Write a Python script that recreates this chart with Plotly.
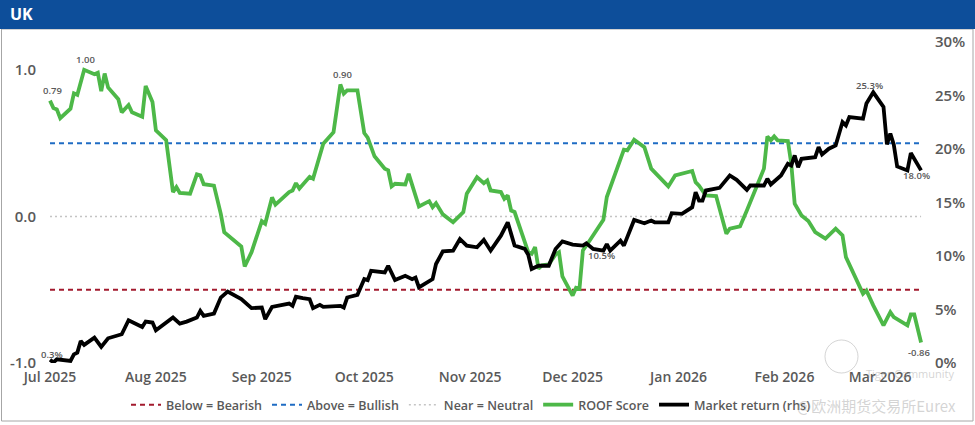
import plotly.graph_objects as go
import pandas as pd

# ---------------- data ----------------
roof_dates = [
    "2025-07-01", "2025-07-02", "2025-07-03", "2025-07-04", "2025-07-07", "2025-07-08", "2025-07-09",
    "2025-07-11", "2025-07-14", "2025-07-15", "2025-07-16", "2025-07-17", "2025-07-18", "2025-07-21",
    "2025-07-22", "2025-07-24", "2025-07-25", "2025-07-28", "2025-07-29", "2025-07-31", "2025-08-01",
    "2025-08-04", "2025-08-06", "2025-08-07", "2025-08-08", "2025-08-11", "2025-08-13", "2025-08-14",
    "2025-08-15", "2025-08-18", "2025-08-20", "2025-08-21", "2025-08-26", "2025-08-27", "2025-08-29",
    "2025-09-01", "2025-09-02", "2025-09-04", "2025-09-05", "2025-09-09", "2025-09-10", "2025-09-11",
    "2025-09-12", "2025-09-15", "2025-09-16", "2025-09-19", "2025-09-22", "2025-09-24", "2025-09-25",
    "2025-09-26", "2025-09-29", "2025-10-01", "2025-10-02", "2025-10-04", "2025-10-07", "2025-10-08",
    "2025-10-09", "2025-10-10", "2025-10-13", "2025-10-14", "2025-10-17", "2025-10-20", "2025-10-21",
    "2025-10-22", "2025-10-24", "2025-10-27", "2025-10-30", "2025-10-31", "2025-11-03", "2025-11-05",
    "2025-11-06", "2025-11-07", "2025-11-10", "2025-11-11", "2025-11-12", "2025-11-13", "2025-11-14",
    "2025-11-18", "2025-11-19", "2025-11-20", "2025-11-21", "2025-11-22", "2025-11-24", "2025-11-26",
    "2025-11-27", "2025-11-28", "2025-12-01", "2025-12-02", "2025-12-03", "2025-12-04", "2025-12-06",
    "2025-12-10", "2025-12-11", "2025-12-16", "2025-12-17", "2025-12-19", "2025-12-22", "2025-12-24",
    "2025-12-29", "2025-12-31", "2026-01-05", "2026-01-06", "2026-01-07", "2026-01-09", "2026-01-12",
    "2026-01-15", "2026-01-16", "2026-01-19", "2026-01-21", "2026-01-26", "2026-01-27", "2026-01-28",
    "2026-01-29", "2026-01-30", "2026-02-02", "2026-02-03", "2026-02-04", "2026-02-06", "2026-02-08",
    "2026-02-10", "2026-02-13", "2026-02-16", "2026-02-18", "2026-02-19", "2026-02-24", "2026-02-25",
    "2026-02-27", "2026-03-02", "2026-03-04", "2026-03-05", "2026-03-09", "2026-03-10", "2026-03-11",
    "2026-03-13",
]
roof_score = [
    0.79, 0.74, 0.73, 0.67, 0.735, 0.84, 0.83,
    1.00, 0.97, 0.98, 0.855, 0.975, 0.88, 0.80,
    0.71, 0.76, 0.71, 0.68, 0.89, 0.78, 0.587,
    0.52, 0.166, 0.20, 0.16, 0.155, 0.287, 0.28,
    0.22, 0.21, 0.018, -0.107, -0.205, -0.341, -0.244,
    -0.032, -0.05, 0.13, 0.08, 0.166, 0.177, 0.227,
    0.19, 0.27, 0.257, 0.496, 0.575, 0.90, 0.838,
    0.86, 0.86, 0.569, 0.537, 0.41, 0.325, 0.314,
    0.205, 0.223, 0.218, 0.29, 0.068, 0.104, 0.063,
    0.09, 0.014, -0.039, 0.03, 0.155, 0.268, 0.227,
    0.246, 0.177, 0.166, 0.12, 0.143, 0.04, 0.03,
    -0.244, -0.255, -0.209, -0.357, -0.334, -0.328, -0.26,
    -0.244, -0.41, -0.54, -0.487, -0.494, -0.232, -0.164,
    -0.023, 0.132, 0.455, 0.45, 0.523, 0.473, 0.326,
    0.205, 0.28, 0.31, 0.234, 0.21, 0.143, 0.139,
    -0.118, -0.084, -0.068, 0.041, 0.326, 0.546, 0.519,
    0.546, 0.519, 0.514, 0.36, 0.087, 0.007, -0.032,
    -0.107, -0.152, -0.084, -0.13, -0.278, -0.528, -0.505,
    -0.607, -0.744, -0.653, -0.687, -0.744, -0.669, -0.669,
    -0.86,
]

mkt_dates = [
    "2025-07-01", "2025-07-02", "2025-07-03", "2025-07-07", "2025-07-08", "2025-07-09", "2025-07-10",
    "2025-07-11", "2025-07-14", "2025-07-16", "2025-07-18", "2025-07-22", "2025-07-24", "2025-07-28",
    "2025-07-29", "2025-07-31", "2025-08-01", "2025-08-04", "2025-08-06", "2025-08-08", "2025-08-10",
    "2025-08-13", "2025-08-14", "2025-08-15", "2025-08-18", "2025-08-20", "2025-08-22", "2025-08-26",
    "2025-08-29", "2025-09-01", "2025-09-02", "2025-09-04", "2025-09-09", "2025-09-10", "2025-09-11",
    "2025-09-13", "2025-09-15", "2025-09-16", "2025-09-18", "2025-09-19", "2025-09-24", "2025-09-25",
    "2025-09-26", "2025-09-29", "2025-10-01", "2025-10-02", "2025-10-03", "2025-10-07", "2025-10-08",
    "2025-10-10", "2025-10-13", "2025-10-15", "2025-10-16", "2025-10-17", "2025-10-21", "2025-10-22",
    "2025-10-24", "2025-10-27", "2025-10-29", "2025-10-31", "2025-11-03", "2025-11-05", "2025-11-07",
    "2025-11-10", "2025-11-12", "2025-11-14", "2025-11-17", "2025-11-18", "2025-11-19", "2025-11-21",
    "2025-11-24", "2025-11-26", "2025-11-28", "2025-12-01", "2025-12-04", "2025-12-05", "2025-12-07",
    "2025-12-10", "2025-12-11", "2025-12-12", "2025-12-15", "2025-12-16", "2025-12-19", "2025-12-22",
    "2025-12-24", "2025-12-25", "2025-12-29", "2025-12-30", "2026-01-02", "2026-01-05", "2026-01-06",
    "2026-01-07", "2026-01-08", "2026-01-09", "2026-01-13", "2026-01-16", "2026-01-18", "2026-01-21",
    "2026-01-22", "2026-01-26", "2026-01-27", "2026-01-28", "2026-01-31", "2026-02-02", "2026-02-03",
    "2026-02-04", "2026-02-05", "2026-02-06", "2026-02-10", "2026-02-11", "2026-02-12", "2026-02-14",
    "2026-02-16", "2026-02-18", "2026-02-19", "2026-02-20", "2026-02-24", "2026-02-25", "2026-02-27",
    "2026-03-02", "2026-03-03", "2026-03-04", "2026-03-05", "2026-03-06", "2026-03-09", "2026-03-10",
    "2026-03-11", "2026-03-13",
]
market_return = [
    0.3, 0.05, 0.35, 0.19, 0.8, 0.97, 2.06,
    1.69, 2.37, 1.5, 2.31, 2.69, 4.0, 3.37,
    3.87, 3.78, 3.06, 3.78, 4.25, 3.68, 3.87,
    4.25, 4.87, 4.4, 4.62, 6.12, 6.68, 5.97,
    5.13, 5.18, 4.1, 5.25, 5.56, 5.34, 6.19,
    6.06, 5.97, 5.13, 5.44, 5.25, 5.34, 5.18,
    6.12, 6.37, 7.84, 7.75, 8.62, 8.46, 9.09,
    7.75, 8.15, 7.84, 7.99, 7.06, 7.84, 9.25,
    10.43, 10.5, 11.59, 10.97, 10.81, 11.5, 10.5,
    11.9, 13.15, 10.97, 10.66, 10.12, 8.78, 9.09,
    9.09, 10.66, 11.37, 11.06, 10.97, 11.18, 10.66,
    10.5, 11.12, 10.5, 11.43, 10.97, 13.37, 13.06,
    13.31, 13.15, 13.15, 14.0, 13.94, 14.56, 15.96,
    15.18, 15.18, 16.12, 16.37, 17.53, 17.12, 16.18,
    16.59, 16.59, 17.22, 16.68, 17.53, 18.62, 18.46,
    19.4, 18.3, 19.09, 19.24, 20.18, 19.49, 20.03,
    20.34, 22.52, 22.21, 22.99, 22.84, 24.25, 25.3,
    23.93, 20.43, 21.43, 20.43, 18.37, 18.0, 19.62,
    19.09, 18.0,
]

bearish_level = -0.5
bullish_level = 0.5
neutral_level = 0.0

left_ticks = [-1.0, 0.0, 1.0]
left_tick_text = ["-1.0", "0.0", "1.0"]
right_ticks = [0, 5, 10, 15, 20, 25, 30]
right_tick_text = ["0%", "5%", "10%", "15%", "20%", "25%", "30%"]

# labelled points (dates) on each series
roof_label_dates = ["2025-07-01", "2025-07-11", "2025-09-24", "2026-03-13"]
mkt_label_dates = ["2025-07-01", "2026-02-27", "2025-12-10", "2026-03-13"]

# ---------------- styling ----------------
W, H = 975, 425
ML, MR, MT, MB = 45, 45, 42, 62
PW, PH = W - ML - MR, H - MT - MB
TXT = "#595959"
FONT = "Open Sans"
GREEN = "#4DB848"


def px_x(p):
    return (p - ML) / PW


def px_y(p):
    return (H - MB - p) / PH


fig = go.Figure()
x_span = [roof_dates[0], roof_dates[-1]]

fig.add_trace(go.Scatter(x=x_span, y=[bearish_level] * 2, mode="lines", name="Below = Bearish",
                         line=dict(color="#A31A2E", width=2, dash="5px,4px"), yaxis="y"))
fig.add_trace(go.Scatter(x=x_span, y=[bullish_level] * 2, mode="lines", name="Above = Bullish",
                         line=dict(color="#1F6CC4", width=2, dash="5px,4px"), yaxis="y"))
fig.add_trace(go.Scatter(x=x_span, y=[neutral_level] * 2, mode="lines", name="Near = Neutral",
                         line=dict(color="#C4C4C4", width=1.5, dash="2px,3px"), yaxis="y"))
fig.add_trace(go.Scatter(x=roof_dates, y=roof_score, mode="lines", name="ROOF Score",
                         line=dict(color=GREEN, width=3.8), yaxis="y"))
fig.add_trace(go.Scatter(x=mkt_dates, y=market_return, mode="lines", name="Market return (rhs)",
                         line=dict(color="#000000", width=3.8), yaxis="y2"))

annotations = []
lab_font = dict(family=FONT, size=9.5, color=TXT, weight=600)
roof_shifts = [(2, 10), (1, 10), (2, 10), (-2, -10)]
for d, (xs, ys) in zip(roof_label_dates, roof_shifts):
    v = roof_score[roof_dates.index(d)]
    annotations.append(dict(x=d, y=v, xref="x", yref="y", text=f"{v:.2f}", showarrow=False,
                            xshift=xs, yshift=ys, font=lab_font))
mkt_shifts = [(2, 5), (-4, 7), (-2, -5), (-5, -5)]
for d, (xs, ys) in zip(mkt_label_dates, mkt_shifts):
    v = market_return[mkt_dates.index(d)]
    annotations.append(dict(x=d, y=v, xref="x", yref="y2", text=f"{v:.1f}%", showarrow=False,
                            xshift=xs, yshift=ys, font=lab_font))

# header title
annotations.append(dict(x=px_x(8), y=px_y(14), xref="paper", yref="paper", text="<b>UK</b>",
                        showarrow=False, xanchor="left", yanchor="middle",
                        font=dict(family=FONT, size=16, color="white")))
# watermark
annotations.append(dict(x=px_x(956), y=px_y(373), xref="paper", yref="paper", text="Tiger Community",
                        showarrow=False, xanchor="right", yanchor="middle",
                        font=dict(family=FONT, size=11, color="rgba(170,170,170,0.5)")))
annotations.append(dict(x=px_x(958), y=px_y(406), xref="paper", yref="paper", text="@欧洲期货交易所Eurex",
                        showarrow=False, xanchor="right", yanchor="middle",
                        font=dict(family="Noto Sans CJK SC", size=15, color="rgba(170,170,170,0.5)")))

shapes = [
    dict(type="rect", xref="paper", yref="paper", x0=px_x(1.5), x1=px_x(973), y0=px_y(421), y1=px_y(29),
         line=dict(color="#A6A6A6", width=1), fillcolor="rgba(0,0,0,0)", layer="below"),
    dict(type="rect", xref="paper", yref="paper", x0=px_x(0), x1=px_x(975), y0=px_y(29), y1=px_y(0),
         line=dict(width=0), fillcolor="#0D4E9A", layer="below"),
    dict(type="circle", xref="paper", yref="paper", x0=px_x(825), x1=px_x(858), y0=px_y(373), y1=px_y(340),
         line=dict(color="rgba(170,170,170,0.5)", width=1), layer="above"),
]

x_range = [pd.Timestamp("2025-07-01") + pd.Timedelta(days=(ML - 50) / 3.416),
           pd.Timestamp("2025-07-01") + pd.Timedelta(days=(W - MR - 50) / 3.416)]

fig.update_layout(
    width=W, height=H,
    margin=dict(l=ML, r=MR, t=MT, b=MB, autoexpand=False),
    paper_bgcolor="white", plot_bgcolor="white",
    font=dict(family=FONT, color=TXT),
    showlegend=True,
    legend=dict(orientation="h", x=px_x(126), y=px_y(405), xanchor="left", yanchor="middle",
                font=dict(family=FONT, size=12.5, color=TXT, weight=600), itemwidth=30,
                bgcolor="rgba(0,0,0,0)", tracegroupgap=0),
    xaxis=dict(type="date", range=x_range, dtick="M1", tick0="2025-07-01", tickformat="%b %Y",
               showgrid=False, zeroline=False, showline=False, ticks="", ticklabelstandoff=4,
               tickfont=dict(family=FONT, size=14, color=TXT, weight=600)),
    yaxis=dict(range=[-1, 1.19], tickvals=left_ticks, ticktext=left_tick_text, showgrid=False,
               zeroline=False, showline=False, ticks="", ticklabelstandoff=8,
               tickfont=dict(family=FONT, size=15, color=TXT, weight=600)),
    yaxis2=dict(range=[0, 30], tickvals=right_ticks, ticktext=right_tick_text, overlaying="y", side="right",
                showgrid=False, zeroline=False, showline=False, ticks="", ticklabelstandoff=4,
                tickfont=dict(family=FONT, size=15, color=TXT, weight=600)),
    annotations=annotations,
    shapes=shapes,
)

fig.write_html("out.html", config={"displayModeBar": False},
               post_script="document.body.style.margin='0';document.body.style.overflow='hidden';")
